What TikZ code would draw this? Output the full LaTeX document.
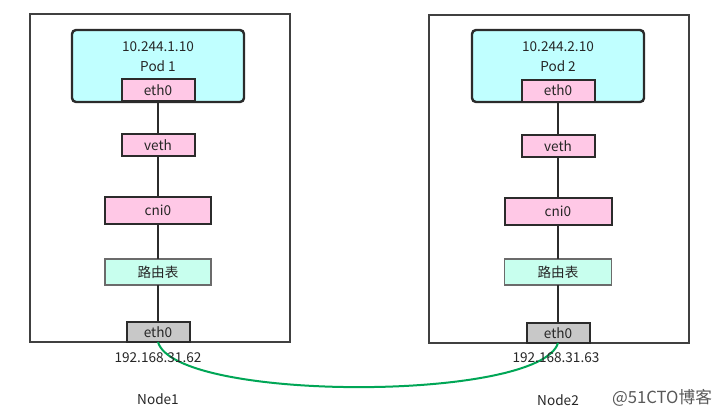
\documentclass[tikz,border=0pt]{standalone}
\usepackage{fontspec}
\setmainfont{Noto Sans CJK SC}
\definecolor{podfill}{HTML}{C0FFFF}
\definecolor{pinkfill}{HTML}{FFC8E6}
\definecolor{mintfill}{HTML}{C8FFEE}
\definecolor{greyfill}{HTML}{C8C8C8}
\definecolor{linkgreen}{HTML}{00A656}
\definecolor{edge}{HTML}{2B2B2B}
\begin{document}
\begin{tikzpicture}[x=0.75pt,y=-0.75pt,
  every node/.style={inner sep=0pt,outer sep=0pt,font=\fontsize{10.2pt}{12pt}\selectfont,text=black!85},
  hostbox/.style={draw=edge!90,line width=0.8pt,fill=white,rectangle},
  podbox/.style={draw=edge,line width=1.8pt,fill=podfill,rounded corners=3pt,rectangle},
  pinkbox/.style={draw=edge,line width=1.5pt,fill=pinkfill,rectangle},
  mintbox/.style={draw=edge!70,line width=0.8pt,fill=mintfill,rectangle},
  greybox/.style={draw=edge,line width=1.5pt,fill=greyfill,rectangle},
  wire/.style={draw=edge,line width=1.5pt},
  lbl/.style={text=black!85}]
\useasboundingbox (0,0) rectangle (720,414);
\fill[white] (0,0) rectangle (720,414);
% hosts
\node[hostbox,minimum width=260*0.75pt,minimum height=328*0.75pt] (h1) at (160,178) {};
\node[hostbox,minimum width=260*0.75pt,minimum height=328*0.75pt] (h2) at (559,179) {};
% pods
\node[podbox,minimum width=172*0.75pt,minimum height=72*0.75pt] (pod1) at (158,66) {};
\node[podbox,minimum width=172*0.75pt,minimum height=72*0.75pt] (pod2) at (558,66) {};
\node[lbl] (ip1) at (158,47) {10.244.1.10};
\node[lbl] (pn1) at (158,66) {Pod 1};
\node[lbl] (ip2) at (558,47) {10.244.2.10};
\node[lbl] (pn2) at (558,66) {Pod 2};
% left stack
\node[pinkbox,minimum width=73*0.75pt,minimum height=22*0.75pt] (pe1) at (158,90) {eth0};
\node[pinkbox,minimum width=73*0.75pt,minimum height=22*0.75pt] (ve1) at (158,145) {veth};
\node[pinkbox,minimum width=106*0.75pt,minimum height=27*0.75pt] (cn1) at (158,210.5) {cni0};
\node[mintbox,minimum width=106*0.75pt,minimum height=26*0.75pt] (rt1) at (158,272) {路由表};
\node[greybox,minimum width=63*0.75pt,minimum height=20*0.75pt] (he1) at (158,332) {eth0};
% right stack
\node[pinkbox,minimum width=73*0.75pt,minimum height=22*0.75pt] (pe2) at (558,90.5) {eth0};
\node[pinkbox,minimum width=73*0.75pt,minimum height=22*0.75pt] (ve2) at (558,146) {veth};
\node[pinkbox,minimum width=107*0.75pt,minimum height=27*0.75pt] (cn2) at (558,211.5) {cni0};
\node[mintbox,minimum width=107*0.75pt,minimum height=26*0.75pt] (rt2) at (558,272) {路由表};
\node[greybox,minimum width=63*0.75pt,minimum height=20*0.75pt] (he2) at (558,333) {eth0};
% wires
\draw[wire] (pe1.south) -- (ve1.north);
\draw[wire] (ve1.south) -- (cn1.north);
\draw[wire] (cn1.south) -- (rt1.north);
\draw[wire] (rt1.south) -- (he1.north);
\draw[wire] (pe2.south) -- (ve2.north);
\draw[wire] (ve2.south) -- (cn2.north);
\draw[wire] (cn2.south) -- (rt2.north);
\draw[wire] (rt2.south) -- (he2.north);
% link
\draw[linkgreen,line width=1.5pt] (he1.south) .. controls (175,402) and (540,402) .. (he2.south);
% labels
\node[lbl] (a1) at (158,358) {192.168.31.62};
\node[lbl] (a2) at (556,358) {192.168.31.63};
\node[lbl] (n1) at (158,399) {Node1};
\node[lbl] (n2) at (558,400) {Node2};
\node[text=black!65,font=\fontsize{12.5pt}{14pt}\selectfont] (wm) at (662,398) {@51CTO博客};
\end{tikzpicture}
\end{document}
